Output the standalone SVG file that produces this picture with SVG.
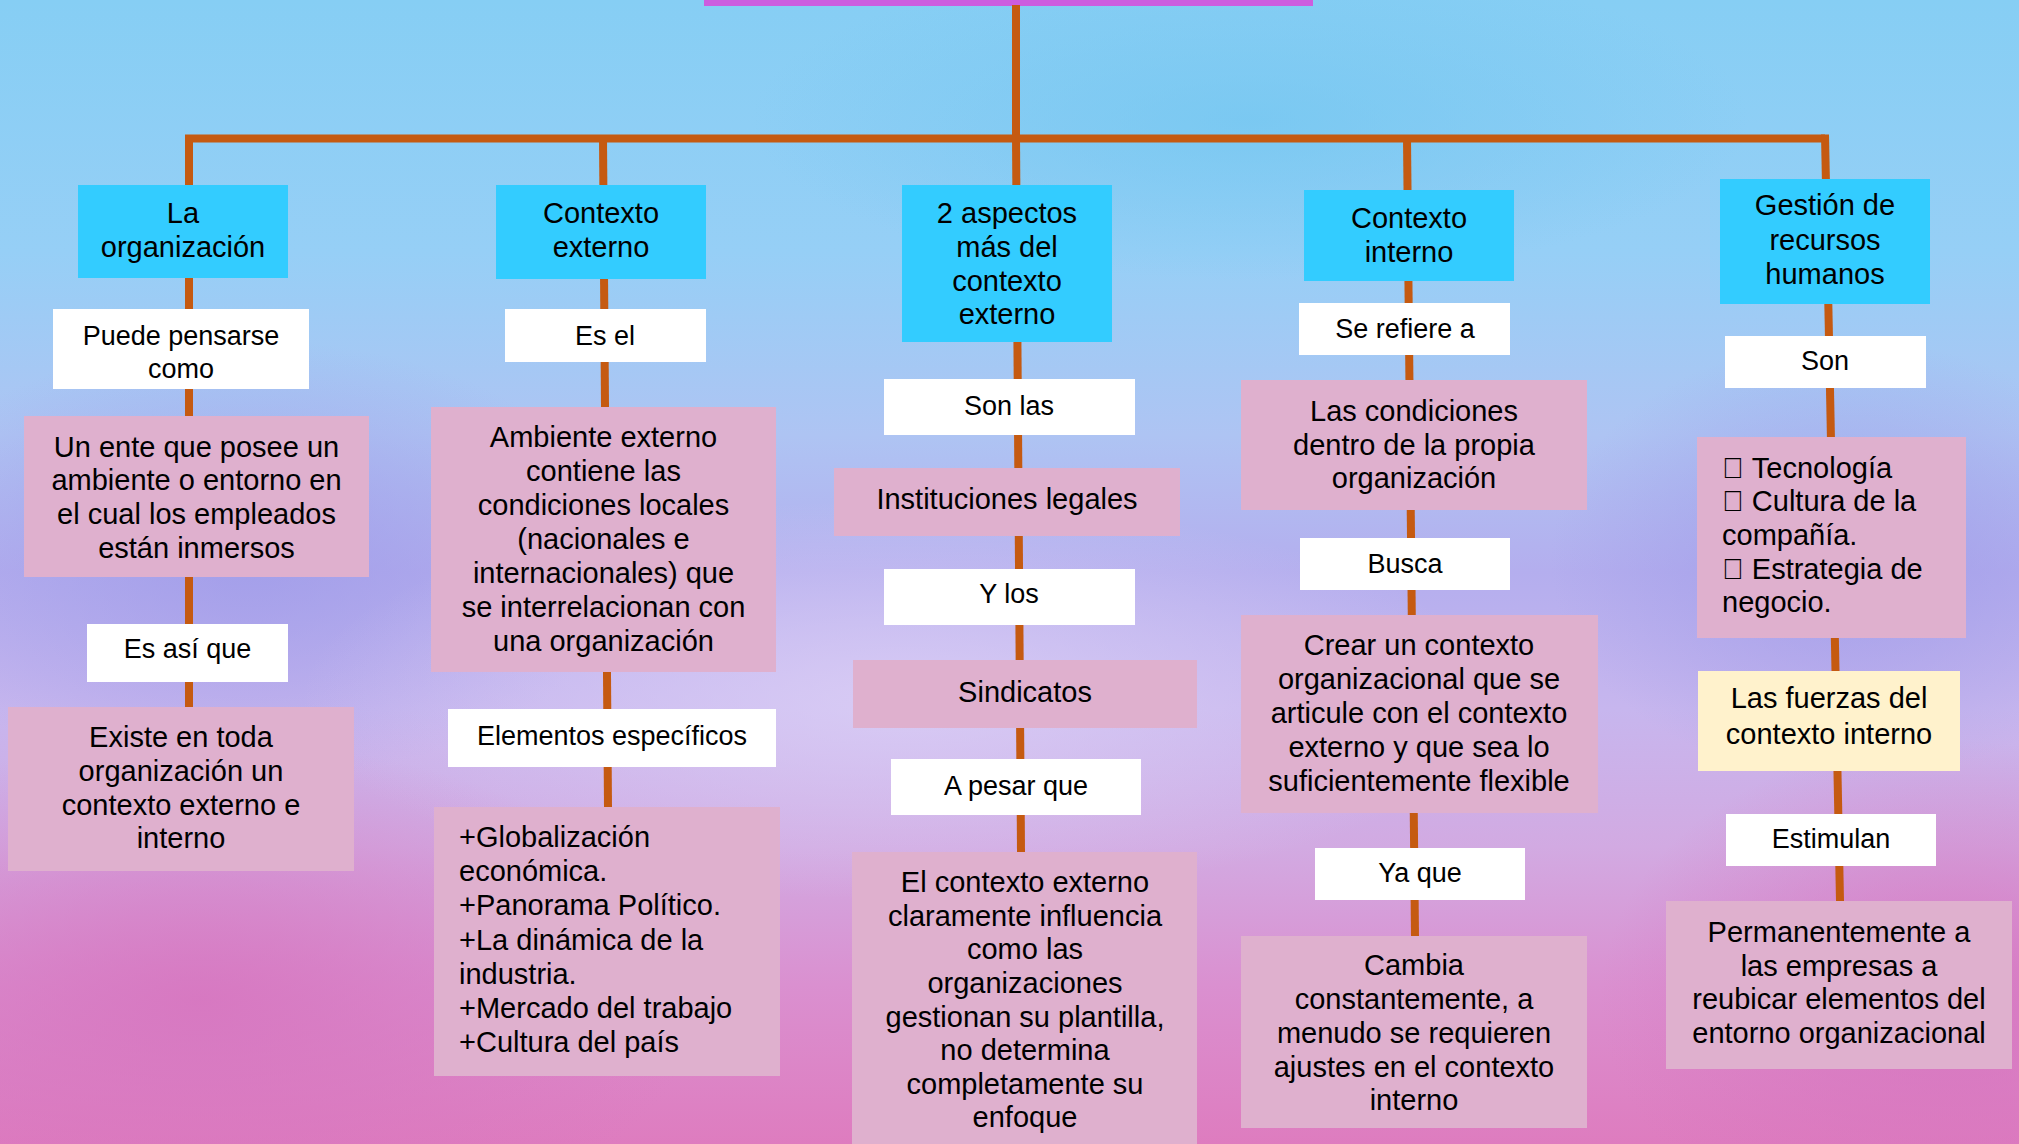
<svg xmlns="http://www.w3.org/2000/svg" width="2019" height="1144" viewBox="0 0 2019 1144">
<defs>
<linearGradient id="bg" x1="0" y1="0" x2="0" y2="1">
<stop offset="0" stop-color="#86CEF4"/>
<stop offset="0.22" stop-color="#96CFF6"/>
<stop offset="0.38" stop-color="#AEC4F3"/>
<stop offset="0.5" stop-color="#B4AEEE"/>
<stop offset="0.62" stop-color="#C7B6EE"/>
<stop offset="0.74" stop-color="#D2AAE2"/>
<stop offset="0.86" stop-color="#DA90D0"/>
<stop offset="1" stop-color="#DE7CBF"/>
</linearGradient>
<radialGradient id="pinkL" cx="0.5" cy="0.5" r="0.5">
<stop offset="0" stop-color="#D673BE" stop-opacity="0.8"/>
<stop offset="1" stop-color="#D673BE" stop-opacity="0"/>
</radialGradient>
<radialGradient id="purp" cx="0.5" cy="0.5" r="0.5">
<stop offset="0" stop-color="#9C98E8" stop-opacity="0.7"/>
<stop offset="1" stop-color="#9C98E8" stop-opacity="0"/>
</radialGradient>
<radialGradient id="lite" cx="0.5" cy="0.5" r="0.5">
<stop offset="0" stop-color="#DCD0F6" stop-opacity="0.8"/>
<stop offset="1" stop-color="#DCD0F6" stop-opacity="0"/>
</radialGradient>
<radialGradient id="sky" cx="0.5" cy="0.5" r="0.5">
<stop offset="0" stop-color="#72C6F0" stop-opacity="0.7"/>
<stop offset="1" stop-color="#72C6F0" stop-opacity="0"/>
</radialGradient>
<style>
.cy{fill:#33CCFF}
.pk{fill:#DFB0CE}
.wh{fill:#FFFFFF}
.ye{fill:#FFF2CC}
text{font-family:"Liberation Sans",Arial,sans-serif;fill:#000}
.c{text-anchor:middle}
.t29{font-size:29px}
.t27{font-size:27px}
.ln{fill:none;stroke:#C55A11;stroke-width:8;stroke-linejoin:miter}
</style>
</defs>
<g id="background">
<rect x="0" y="0" width="2019" height="1144" fill="url(#bg)"/>
<ellipse cx="1250" cy="120" rx="500" ry="160" fill="url(#sky)"/>
<ellipse cx="250" cy="560" rx="380" ry="220" fill="url(#purp)"/>
<ellipse cx="1850" cy="560" rx="300" ry="220" fill="url(#purp)"/>
<ellipse cx="900" cy="700" rx="600" ry="200" fill="url(#lite)"/>
<ellipse cx="200" cy="1000" rx="500" ry="260" fill="url(#pinkL)"/>
<ellipse cx="1950" cy="1000" rx="350" ry="260" fill="url(#pinkL)"/>
</g>
<rect id="title" x="704" y="-2" width="609" height="8" fill="#CC5DDF"/>
<g id="connectors">
<path class="ln" d="M1016,5 V138.5"/>
<path class="ln" d="M189,707 V138.5 H1825"/>
<path class="ln" d="M603,138 L608,807"/>
<path class="ln" d="M1016,138 L1021,852"/>
<path class="ln" d="M1407,138 L1415,936"/>
<path class="ln" d="M1825,134.5 L1840,901"/>
</g>
<g id="n1"><rect class="cy" x="78" y="185" width="210" height="93"/><text class="c t29" x="183" y="223">La<tspan x="183" y="257">organización</tspan></text></g>
<g id="n1a"><rect class="wh" x="53" y="309" width="256" height="80"/><text class="c t27" x="181" y="345">Puede pensarse<tspan x="181" y="378">como</tspan></text></g>
<g id="n1b"><rect class="pk" x="24" y="416" width="345" height="161"/><text class="c t29" x="196.5" y="457">Un ente que posee un<tspan x="196.5" y="490">ambiente o entorno en</tspan><tspan x="196.5" y="524">el cual los empleados</tspan><tspan x="196.5" y="558">están inmersos</tspan></text></g>
<g id="n1c"><rect class="wh" x="87" y="624" width="201" height="58"/><text class="c t27" x="187.5" y="658">Es así que</text></g>
<g id="n1d"><rect class="pk" x="8" y="707" width="346" height="164"/><text class="c t29" x="181" y="747">Existe en toda<tspan x="181" y="781">organización un</tspan><tspan x="181" y="815">contexto externo e</tspan><tspan x="181" y="848">interno</tspan></text></g>
<g id="n2"><rect class="cy" x="496" y="185" width="210" height="94"/><text class="c t29" x="601" y="223">Contexto<tspan x="601" y="257">externo</tspan></text></g>
<g id="n2a"><rect class="wh" x="505" y="309" width="201" height="53"/><text class="c t27" x="605" y="345">Es el</text></g>
<g id="n2b"><rect class="pk" x="431" y="407" width="345" height="265"/><text class="c t29" x="603.5" y="447">Ambiente externo<tspan x="603.5" y="481">contiene las</tspan><tspan x="603.5" y="515">condiciones locales</tspan><tspan x="603.5" y="549">(nacionales e</tspan><tspan x="603.5" y="583">internacionales) que</tspan><tspan x="603.5" y="617">se interrelacionan con</tspan><tspan x="603.5" y="651">una organización</tspan></text></g>
<g id="n2c"><rect class="wh" x="448" y="709" width="328" height="58"/><text class="c t27" x="612" y="745">Elementos específicos</text></g>
<g id="n2d"><rect class="pk" x="434" y="807" width="346" height="269"/><text class="t29" x="459" y="847">+Globalización<tspan x="459" y="881">económica.</tspan><tspan x="459" y="915">+Panorama Político.</tspan><tspan x="459" y="950">+La dinámica de la</tspan><tspan x="459" y="984">industria.</tspan><tspan x="459" y="1018">+Mercado del trabajo</tspan><tspan x="459" y="1052">+Cultura del país</tspan></text></g>
<g id="n3"><rect class="cy" x="902" y="185" width="210" height="157"/><text class="c t29" x="1007" y="223">2 aspectos<tspan x="1007" y="257">más del</tspan><tspan x="1007" y="291">contexto</tspan><tspan x="1007" y="324">externo</tspan></text></g>
<g id="n3a"><rect class="wh" x="884" y="379" width="251" height="56"/><text class="c t27" x="1009" y="415">Son las</text></g>
<g id="n3b"><rect class="pk" x="834" y="468" width="346" height="68"/><text class="c t29" x="1007" y="509">Instituciones legales</text></g>
<g id="n3c"><rect class="wh" x="884" y="569" width="251" height="56"/><text class="c t27" x="1009" y="603">Y los</text></g>
<g id="n3d"><rect class="pk" x="853" y="660" width="344" height="68"/><text class="c t29" x="1025" y="702">Sindicatos</text></g>
<g id="n3e"><rect class="wh" x="891" y="759" width="250" height="56"/><text class="c t27" x="1016" y="795">A pesar que</text></g>
<g id="n3f"><rect class="pk" x="852" y="852" width="345" height="300"/><text class="c t29" x="1025" y="892">El contexto externo<tspan x="1025" y="926">claramente influencia</tspan><tspan x="1025" y="959">como las</tspan><tspan x="1025" y="993">organizaciones</tspan><tspan x="1025" y="1027">gestionan su plantilla,</tspan><tspan x="1025" y="1060">no determina</tspan><tspan x="1025" y="1094">completamente su</tspan><tspan x="1025" y="1127">enfoque</tspan></text></g>
<g id="n4"><rect class="cy" x="1304" y="190" width="210" height="91"/><text class="c t29" x="1409" y="228">Contexto<tspan x="1409" y="262">interno</tspan></text></g>
<g id="n4a"><rect class="wh" x="1299" y="303" width="211" height="52"/><text class="c t27" x="1405" y="338">Se refiere a</text></g>
<g id="n4b"><rect class="pk" x="1241" y="380" width="346" height="130"/><text class="c t29" x="1414" y="421">Las condiciones<tspan x="1414" y="455">dentro de la propia</tspan><tspan x="1414" y="488">organización</tspan></text></g>
<g id="n4c"><rect class="wh" x="1300" y="538" width="210" height="52"/><text class="c t27" x="1405" y="573">Busca</text></g>
<g id="n4d"><rect class="pk" x="1241" y="615" width="357" height="198"/><text class="c t29" x="1419" y="655">Crear un contexto<tspan x="1419" y="689">organizacional que se</tspan><tspan x="1419" y="723">articule con el contexto</tspan><tspan x="1419" y="757">externo y que sea lo</tspan><tspan x="1419" y="791">suficientemente flexible</tspan></text></g>
<g id="n4e"><rect class="wh" x="1315" y="848" width="210" height="52"/><text class="c t27" x="1420" y="882">Ya que</text></g>
<g id="n4f"><rect class="pk" x="1241" y="936" width="346" height="192"/><text class="c t29" x="1414" y="975">Cambia<tspan x="1414" y="1009">constantemente, a</tspan><tspan x="1414" y="1043">menudo se requieren</tspan><tspan x="1414" y="1077">ajustes en el contexto</tspan><tspan x="1414" y="1110">interno</tspan></text></g>
<g id="n5"><rect class="cy" x="1720" y="179" width="210" height="125"/><text class="c t29" x="1825" y="215">Gestión de<tspan x="1825" y="250">recursos</tspan><tspan x="1825" y="284">humanos</tspan></text></g>
<g id="n5a"><rect class="wh" x="1725" y="336" width="201" height="52"/><text class="c t27" x="1825" y="370">Son</text></g>
<g id="n5b"><rect class="pk" x="1697" y="437" width="269" height="201"/><text class="t29" x="1722" y="478">&#xF0D8; Tecnología<tspan x="1722" y="511">&#xF0D8; Cultura de la</tspan><tspan x="1722" y="545">compañía.</tspan><tspan x="1722" y="579">&#xF0D8; Estrategia de</tspan><tspan x="1722" y="612">negocio.</tspan></text></g>
<g id="n5c"><rect class="ye" x="1698" y="671" width="262" height="100"/><text class="c t29" x="1829" y="708">Las fuerzas del<tspan x="1829" y="744">contexto interno</tspan></text></g>
<g id="n5d"><rect class="wh" x="1726" y="814" width="210" height="52"/><text class="c t27" x="1831" y="848">Estimulan</text></g>
<g id="n5e"><rect class="pk" x="1666" y="901" width="346" height="168"/><text class="c t29" x="1839" y="942">Permanentemente a<tspan x="1839" y="976">las empresas a</tspan><tspan x="1839" y="1009">reubicar elementos del</tspan><tspan x="1839" y="1043">entorno organizacional</tspan></text></g>
</svg>
